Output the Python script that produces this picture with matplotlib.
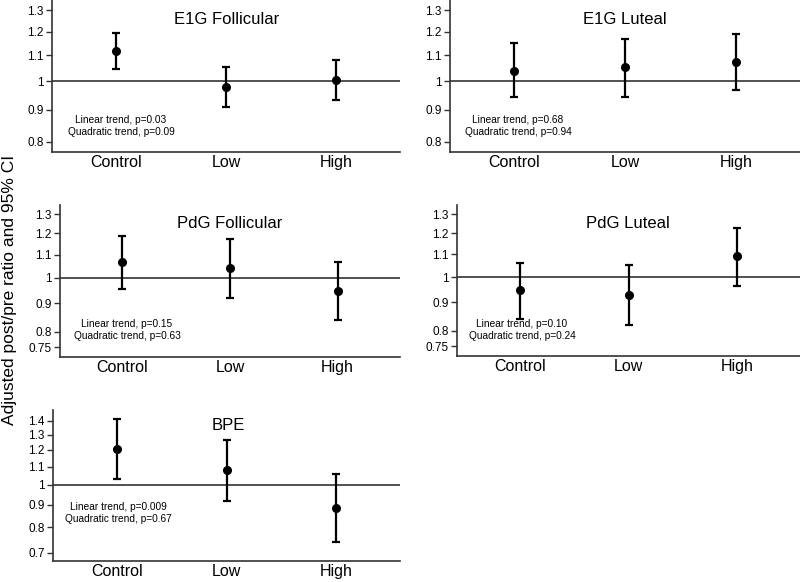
import numpy as np
import matplotlib
matplotlib.use('Agg')
import matplotlib.pyplot as plt
from matplotlib.ticker import FixedLocator, NullLocator

plt.rcParams['font.family'] = ['Liberation Sans', 'DejaVu Sans']

groups = ['Control', 'Low', 'High']

titles = ['E1G Follicular', 'E1G Luteal', 'PdG Follicular', 'PdG Luteal', 'BPE']

# point estimates and 95% CI bounds, per panel
est = [[1.12, 0.98, 1.003],
       [1.04, 1.053, 1.073],
       [1.065, 1.04, 0.945],
       [0.947, 0.93, 1.09],
       [1.205, 1.08, 0.885]]
lo = [[1.045, 0.91, 0.933],
      [0.945, 0.945, 0.967],
      [0.953, 0.92, 0.838],
      [0.84, 0.82, 0.965],
      [1.03, 0.92, 0.74]]
hi = [[1.195, 1.055, 1.08],
      [1.15, 1.168, 1.19],
      [1.19, 1.175, 1.065],
      [1.06, 1.05, 1.225],
      [1.41, 1.265, 1.055]]

linear_p = ['0.03', '0.68', '0.15', '0.10', '0.009']
quad_p = ['0.09', '0.94', '0.63', '0.24', '0.67']

yticks = [[0.8, 0.9, 1, 1.1, 1.2, 1.3],
          [0.8, 0.9, 1, 1.1, 1.2, 1.3],
          [0.75, 0.8, 0.9, 1, 1.1, 1.2, 1.3],
          [0.75, 0.8, 0.9, 1, 1.1, 1.2, 1.3],
          [0.7, 0.8, 0.9, 1, 1.1, 1.2, 1.3, 1.4]]
ylims = [(0.77, 1.35), (0.77, 1.35), (0.72, 1.35), (0.72, 1.35), (0.67, 1.48)]

W, H = 800, 582
fig = plt.figure(figsize=(W / 100, H / 100), dpi=100)

# panel boxes in pixels: left, right, top, bottom
boxes = [(52, 400, 0, 152), (450, 800, 0, 152),
         (60, 400, 205, 357), (457, 800, 205, 356),
         (53, 400, 410, 561)]

# title / trend text positions in pixels
title_dy = [20, 20, 18, 18, 15]
title_dx = [227, 625, 230, 628, 228]
text_x = [121, 518, 127, 522, 118]
text_y = [126, 126, 330, 330, 513]

x = np.arange(1, 4)
for i in range(5):
    l, r, t, b = boxes[i]
    ax = fig.add_axes([l / W, 1 - b / H, (r - l) / W, (b - t) / H])
    ax.set_yscale('log')
    e = np.array(est[i])
    yerr = [e - np.array(lo[i]), np.array(hi[i]) - e]
    ax.errorbar(x, e, yerr=yerr, fmt='o', color='black', ms=5.5,
                elinewidth=1.6, capsize=3.2, capthick=1.6)
    ax.axhline(1, color='#333333', lw=1.2, zorder=0)
    ax.set_xlim(0.42, 3.58)
    ax.set_ylim(*ylims[i])
    ax.yaxis.set_major_locator(FixedLocator(yticks[i]))
    ax.yaxis.set_minor_locator(NullLocator())
    ax.set_yticklabels([('%g' % v) for v in yticks[i]], fontsize=8.5)
    ax.set_xticks(x)
    ax.set_xticklabels(groups, fontsize=11.5)
    ax.tick_params(axis='x', length=0, pad=2)
    ax.tick_params(axis='y', length=4, width=1, pad=2, colors='#333333',
                   labelcolor='black')
    for s in ['top', 'right']:
        ax.spines[s].set_visible(False)
    for s in ['left', 'bottom']:
        ax.spines[s].set_linewidth(1.2)
        ax.spines[s].set_color('#333333')
    fig.text(title_dx[i] / W, 1 - (t + title_dy[i]) / H, titles[i],
             fontsize=12, ha='center', va='center')
    fig.text(text_x[i] / W, 1 - text_y[i] / H,
             'Linear trend, p=%s\nQuadratic trend, p=%s' % (linear_p[i], quad_p[i]),
             fontsize=7.3, ha='center', va='center', linespacing=1.3)

fig.text(10 / W, 1 - 290 / H, 'Adjusted post/pre ratio and 95% CI',
         rotation=90, fontsize=12.5, ha='center', va='center')

fig.savefig('out.png', dpi=100)
